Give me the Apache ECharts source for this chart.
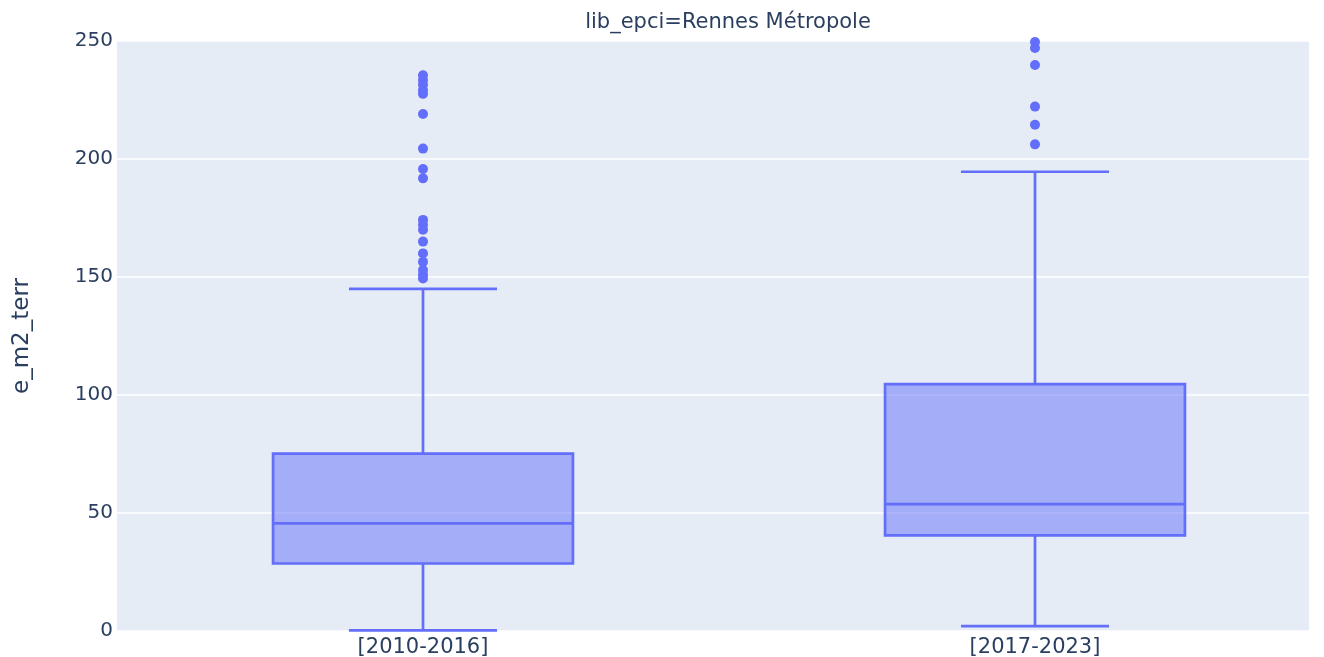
<!DOCTYPE html>
<html>
<head>
<meta charset="utf-8">
<script src="https://cdn.jsdelivr.net/npm/echarts@6/dist/echarts.min.js"></script>
<style>
  html, body { margin: 0; padding: 0; background: #fff; }
  #chart { width: 1324px; height: 657px; }
</style>
</head>
<body>
<div id="chart"></div>
<script>
// ---- data ----
const categories = ['[2010-2016]', '[2017-2023]'];
// [lower whisker, Q1, median, Q3, upper whisker]
const boxStats = [
  [0.3, 28.6, 45.6, 75.2, 145.0],
  [2.1, 40.5, 53.8, 104.6, 194.6]
];
const outliers2010 = [235.5, 233.5, 231.5, 229.2, 227.6, 219.1, 204.4, 195.8, 191.8,
                      174.2, 172.1, 170.0, 165.0, 160.0, 156.4, 153.0, 151.0, 149.4];
const outliers2017 = [249.6, 247.0, 239.8, 222.2, 214.5, 206.2];
const yTicks = [0, 50, 100, 150, 200, 250];

const titleText = 'lib_epci=Rennes Métropole';
const yName = 'e_m2_terr';

// ---- build ----
const boxData = boxStats.map((s, i) => [i].concat(s));
const outlierData = []
  .concat(outliers2010.map(v => [0, v]))
  .concat(outliers2017.map(v => [1, v]));

const FONT = 'DejaVu Sans';
const TXT = '#2a3f5f';
const C = '#636efa';

const chart = echarts.init(document.getElementById('chart'), null, { renderer: 'canvas' });

const option = {
  animation: false,
  backgroundColor: '#ffffff',
  grid: { left: 117, top: 41, width: 1224, height: 590, backgroundColor: '#E5ECF6', show: true, borderWidth: 0,
          outerBoundsMode: 'none', containLabel: false },
  xAxis: {
    type: 'category',
    data: categories,
    boundaryGap: true,
    axisLine: { show: false },
    axisTick: { show: false },
    splitLine: { show: false },
    axisLabel: { color: TXT, fontFamily: FONT, fontSize: 21, margin: 6 }
  },
  yAxis: {
    type: 'value',
    min: yTicks[0],
    max: yTicks[yTicks.length - 1],
    interval: 50,
    name: yName,
    nameLocation: 'middle',
    nameGap: 83,
    nameTextStyle: { color: TXT, fontFamily: FONT, fontSize: 23 },
    axisLine: { show: false },
    axisTick: { show: false },
    axisLabel: { color: TXT, fontFamily: FONT, fontSize: 20, margin: 4 },
    splitLine: { lineStyle: { color: '#ffffff', width: 1.5 } }
  },
  graphic: [
    { type: 'rect', shape: { x: 1309, y: 0, width: 40, height: 657 }, style: { fill: '#ffffff' }, z: 100 },
    { type: 'text', x: 728, y: 23, style: { text: titleText, fill: TXT, font: '21px "DejaVu Sans"', textAlign: 'center', textVerticalAlign: 'middle' }, z: 100 }
  ],
  series: [
    {
      type: 'custom',
      data: boxData,
      renderItem: function (params, api) {
        const x = api.value(0);
        const band = api.size([1, 0])[0];
        const bh = band * 0.245;
        const ch = band * 0.121;
        const pLow = api.coord([x, api.value(1)]);
        const pQ1 = api.coord([x, api.value(2)]);
        const pMed = api.coord([x, api.value(3)]);
        const pQ3 = api.coord([x, api.value(4)]);
        const pHigh = api.coord([x, api.value(5)]);
        const cx = pLow[0];
        const ls = { stroke: C, lineWidth: 2.7 };
        return {
          type: 'group',
          children: [
            { type: 'line', shape: { x1: cx, y1: pQ3[1], x2: cx, y2: pHigh[1] }, style: ls },
            { type: 'line', shape: { x1: cx, y1: pQ1[1], x2: cx, y2: pLow[1] }, style: ls },
            { type: 'line', shape: { x1: cx - ch, y1: pHigh[1], x2: cx + ch, y2: pHigh[1] }, style: ls },
            { type: 'line', shape: { x1: cx - ch, y1: pLow[1], x2: cx + ch, y2: pLow[1] }, style: ls },
            { type: 'rect', shape: { x: cx - bh, y: pQ3[1], width: 2 * bh, height: pQ1[1] - pQ3[1] },
              style: { fill: 'rgba(99,110,250,0.5)', stroke: C, lineWidth: 2.7 } },
            { type: 'line', shape: { x1: cx - bh, y1: pMed[1], x2: cx + bh, y2: pMed[1] }, style: ls }
          ]
        };
      },
      z: 3
    },
    {
      type: 'scatter',
      data: outlierData,
      symbol: 'circle',
      symbolSize: 10,
      itemStyle: { color: C, opacity: 1 },
      z: 4
    }
  ]
};
chart.setOption(option);
</script>
</body>
</html>
